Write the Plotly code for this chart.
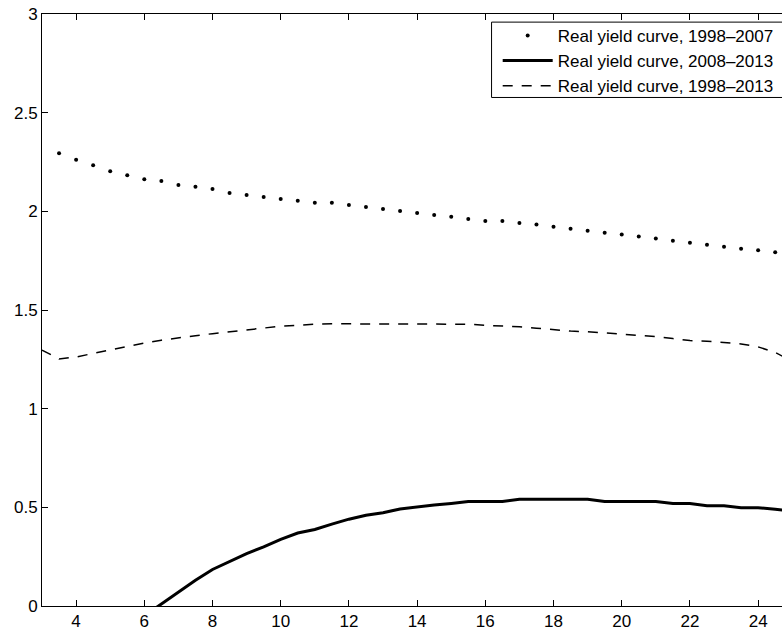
import plotly.graph_objects as go

# Maturity (years) and real yields (%)
x_9807 = [3.5, 4, 4.5, 5, 5.5, 6, 6.5, 7, 7.5, 8, 8.5, 9, 9.5, 10, 10.5, 11, 11.5, 12, 12.5, 13,
          13.5, 14, 14.5, 15, 15.5, 16, 16.5, 17, 17.5, 18, 18.5, 19, 19.5, 20, 20.5, 21, 21.5,
          22, 22.5, 23, 23.5, 24, 24.5, 25]
y_9807 = [2.294, 2.262, 2.234, 2.203, 2.183, 2.163, 2.154, 2.134, 2.124, 2.113, 2.093, 2.083,
          2.073, 2.063, 2.053, 2.043, 2.043, 2.032, 2.022, 2.012, 2.002, 1.992, 1.982, 1.972,
          1.961, 1.951, 1.951, 1.941, 1.933, 1.922, 1.912, 1.902, 1.892, 1.882, 1.872, 1.862,
          1.851, 1.841, 1.831, 1.821, 1.811, 1.803, 1.793, 1.783]

x_0813 = [5.5, 6, 6.5, 7, 7.5, 8, 8.5, 9, 9.5, 10, 10.5, 11, 11.5, 12, 12.5, 13, 13.5, 14, 14.5,
          15, 15.5, 16, 16.5, 17, 17.5, 18, 18.5, 19, 19.5, 20, 20.5, 21, 21.5, 22, 22.5, 23,
          23.5, 24, 24.5, 25]
y_0813 = [-0.11, -0.05, 0.01, 0.07, 0.13, 0.185, 0.225, 0.265, 0.30, 0.338, 0.37, 0.388, 0.415,
          0.44, 0.46, 0.473, 0.492, 0.503, 0.512, 0.52, 0.529, 0.529, 0.529, 0.541, 0.541, 0.541,
          0.541, 0.541, 0.529, 0.529, 0.529, 0.529, 0.519, 0.519, 0.508, 0.508, 0.498, 0.498,
          0.49, 0.48]

x_9813 = [3, 3.5, 4, 4.5, 5, 5.5, 6, 6.5, 7, 7.5, 8, 8.5, 9, 9.5, 10, 10.5, 11, 11.5, 12, 12.5,
          13, 13.5, 14, 14.5, 15, 15.5, 16, 16.5, 17, 17.5, 18, 18.5, 19, 19.5, 20, 20.5, 21,
          21.5, 22, 22.5, 23, 23.5, 24, 24.5, 25]
y_9813 = [1.297, 1.252, 1.262, 1.28, 1.298, 1.316, 1.333, 1.347, 1.36, 1.37, 1.38, 1.39, 1.40,
          1.41, 1.418, 1.422, 1.428, 1.43, 1.43, 1.43, 1.43, 1.43, 1.43, 1.43, 1.43, 1.428,
          1.422, 1.42, 1.415, 1.408, 1.40, 1.393, 1.39, 1.384, 1.375, 1.37, 1.365, 1.355,
          1.345, 1.342, 1.335, 1.328, 1.313, 1.285, 1.24]

x_ticks = [4, 6, 8, 10, 12, 14, 16, 18, 20, 22, 24]
y_ticks = [0, 0.5, 1, 1.5, 2, 2.5, 3]
y_ticktext = ["0", "0.5", "1", "1.5", "2", "2.5", "3"]

names = ["Real yield curve, 1998\u20132007",
         "Real yield curve, 2008\u20132013",
         "Real yield curve, 1998\u20132013"]

FONT = "Liberation Sans, Arial, Helvetica, sans-serif"
XR = [3, 24.70]

fig = go.Figure()
fig.add_trace(go.Scatter(x=x_9807, y=y_9807, mode="markers", name=names[0],
                         marker=dict(color="black", size=4)))
fig.add_trace(go.Scatter(x=x_0813, y=y_0813, mode="lines", name=names[1],
                         line=dict(color="black", width=3)))
fig.add_trace(go.Scatter(x=x_9813, y=y_9813, mode="lines", name=names[2],
                         line=dict(color="black", width=1.5, dash="10px,9px")))
# helper trace so the top (mirror) axis is drawn
fig.add_trace(go.Scatter(x=x_9807, y=y_9807, xaxis="x2", mode="lines", opacity=0,
                         line=dict(width=0), showlegend=False, hoverinfo="skip"))

axis_common = dict(showgrid=False, zeroline=False, showline=True, linecolor="black",
                   linewidth=1, ticks="inside", ticklen=6, tickcolor="black", tickwidth=1)

fig.update_layout(
    width=782, height=630,
    margin=dict(l=42, r=0, t=14, b=24),
    paper_bgcolor="white", plot_bgcolor="white",
    font=dict(family=FONT, size=17, color="black"),
    xaxis=dict(range=XR, tickmode="array", tickvals=x_ticks, **axis_common),
    xaxis2=dict(range=XR, overlaying="x", side="top", matches="x", tickmode="array",
                tickvals=x_ticks, showticklabels=False, **axis_common),
    yaxis=dict(range=[0, 3], tickmode="array", tickvals=y_ticks, ticktext=y_ticktext,
               **axis_common),
    showlegend=True,
    legend=dict(x=0.6158, y=0.9934, xanchor="left", yanchor="top",
                bgcolor="rgba(0,0,0,0)", borderwidth=0, itemwidth=50,
                font=dict(family=FONT, size=17, color="black"), tracegroupgap=0),
    shapes=[dict(type="rect", xref="paper", yref="paper", x0=0.6075, x1=1.05,
                 y0=0.859, y1=0.9863, line=dict(color="black", width=1),
                 fillcolor="white", layer="above")],
)

fig.write_html("out.html")
